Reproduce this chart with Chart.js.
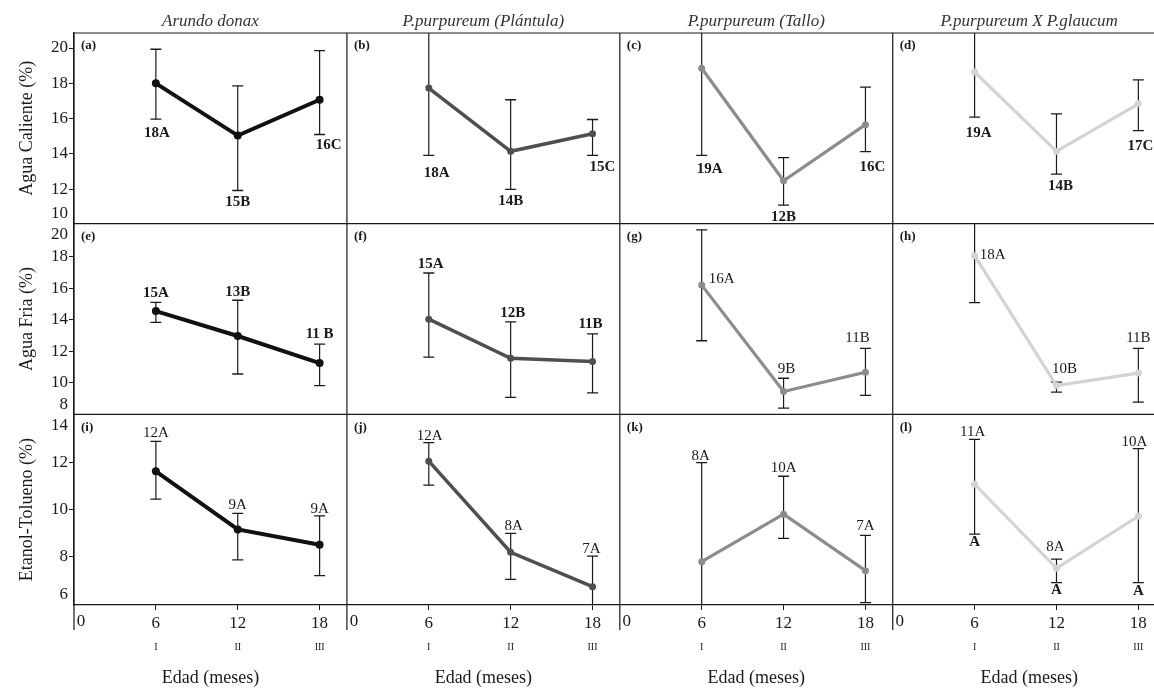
<!DOCTYPE html>
<html>
<head>
<meta charset="utf-8">
<script src="https://cdn.jsdelivr.net/npm/chart.js@4.4.1/dist/chart.umd.min.js"></script>
<style>
  html, body { margin: 0; padding: 0; background: #fff; overflow: hidden; }
  #wrap { position: relative; width: 1173px; height: 689px; }
</style>
</head>
<body>
<div id="wrap"><canvas id="chart"></canvas></div>
<script>
(function () {
  "use strict";

  // ---- data -------------------------------------------------------------
  const AGES = [6, 12, 18];
  const AGE_TICKS = [6, 12, 18];
  const ROMAN = ["I", "II", "III"];
  const SPECIES = ["Arundo donax", "P.purpureum (Plántula)", "P.purpureum (Tallo)", "P.purpureum X P.glaucum"];
  const PROPERTIES = ["Agua Caliente (%)", "Agua Fria (%)", "Etanol-Tolueno (%)"];
  const PANEL_TAGS = [["(a)", "(b)", "(c)", "(d)"], ["(e)", "(f)", "(g)", "(h)"], ["(i)", "(j)", "(k)", "(l)"]];

  // y tick labels per row (edge labels sit inside the frame, without dash)
  const Y_TICKS = [[12, 14, 16, 18, 20], [10, 12, 14, 16, 18], [8, 10, 12]];
  const Y_EDGE_TOP = [null, "20", "14"];
  const Y_EDGE_BOTTOM = ["10", "8", "6"];

  // one row of arrays per property, one inner array per species (6, 12, 18 months)
  const calienteMedia = [[18.0, 15.04, 17.07], [17.73, 14.15, 15.14], [18.85, 12.48, 15.66], [18.64, 14.15, 16.84]];
  const calienteMin = [[15.97, 11.93, 15.1], [13.92, 11.99, 13.92], [13.92, 11.1, 14.13], [16.08, 12.86, 15.32]];
  const calienteMax = [[19.93, 17.86, 19.85], [21.5, 17.07, 15.95], [23.8, 13.79, 17.78], [21.2, 16.27, 18.2]];
  const calienteLetras = [["18A", "15B", "16C"], ["18A", "14B", "15C"], ["19A", "12B", "16C"], ["19A", "14B", "17C"]];

  const friaMedia = [[14.55, 12.97, 11.25], [14.04, 11.56, 11.35], [16.2, 9.45, 10.67], [18.07, 9.83, 10.62]];
  const friaMin = [[13.84, 10.56, 9.82], [11.63, 9.08, 9.36], [12.67, 8.4, 9.2], [15.09, 9.41, 8.78]];
  const friaMax = [[15.1, 15.24, 12.45], [16.97, 13.87, 13.1], [19.71, 10.29, 12.18], [21.0, 10.04, 12.18]];
  const friaLetras = [["15A", "13B", "11 B"], ["15A", "12B", "11B"], ["16A", "9B", "11B"], ["18A", "10B", "11B"]];

  const etanolMedia = [[11.63, 9.16, 8.51], [12.06, 8.19, 6.73], [7.79, 9.81, 7.41], [11.08, 7.51, 9.72]];
  const etanolMin = [[10.45, 7.87, 7.2], [11.04, 7.04, 5.4], [3.6, 8.78, 6.05], [8.96, 6.9, 6.9]];
  const etanolMax = [[12.9, 9.84, 9.74], [12.85, 8.99, 8.03], [12.0, 11.42, 8.91], [12.99, 7.9, 12.59]];
  const etanolLetras = [["12A", "9A", "9A"], ["12A", "8A", "7A"], ["8A", "10A", "7A"], ["11A", "A", "8A", "A", "10A", "A"]];

  const MEANS = [calienteMedia, friaMedia, etanolMedia];
  const LOWS = [calienteMin, friaMin, etanolMin];
  const HIGHS = [calienteMax, friaMax, etanolMax];
  const LETTERS = [calienteLetras, friaLetras, etanolLetras];

  // ---- style ------------------------------------------------------------
  const INK = "#1a1a1a";
  const SERIF = '"Liberation Serif", "DejaVu Serif", serif';
  const COL_COLORS = ["#111111", "#4f4f4f", "#8c8c8c", "#d3d3d3"];
  const LINE_WIDTHS = [4, 3.5, 3.2, 3.2];
  const ROW_RANGES = [[10.05, 20.85], [8.0, 20.1], [5.95, 14.05]];

  // where each letter goes: [point index, anchor, dx, dy, bold]
  const LABEL_POS = [
    [
      [[0, "lo", 1, 14, 1], [1, "lo", 0, 12, 1], [2, "lo", 9, 11, 1]],
      [[0, "lo", 8, 18, 1], [1, "lo", 0, 12, 1], [2, "lo", 10, 12, 1]],
      [[0, "lo", 8, 14, 1], [1, "lo", 0, 12, 1], [2, "lo", 7, 15, 1]],
      [[0, "lo", 4, 16, 1], [1, "lo", 4, 12, 1], [2, "lo", 2, 15, 1]],
    ],
    [
      [[0, "hi", 0, -9, 1], [1, "hi", 0, -8, 1], [2, "hi", 0, -10, 1]],
      [[0, "hi", 2, -9, 1], [1, "hi", 2, -9, 1], [2, "hi", -2, -10, 1]],
      [[0, "pt", 20, -6, 0], [1, "hi", 3, -9, 0], [2, "hi", -8, -10, 0]],
      [[0, "pt", 18, -1, 0], [1, "hi", 8, -13, 0], [2, "hi", 0, -10, 0]],
    ],
    [
      [[0, "hi", 0, -8, 0], [1, "hi", 0, -8, 0], [2, "hi", 0, -7, 0]],
      [[0, "hi", 1, -7, 0], [1, "hi", 3, -7, 0], [2, "hi", -1, -7, 0]],
      [[0, "hi", -1, -7, 0], [1, "hi", 0, -8, 0], [2, "hi", 0, -9, 0]],
      [[0, "hi", -2, -7, 0], [0, "lo", 0, 8, 1], [1, "hi", -1, -12, 0], [1, "lo", 0, 7, 1], [2, "hi", -4, -7, 0], [2, "lo", 0, 8, 1]],
    ],
  ];

  // ---- scales -----------------------------------------------------------
  const scales = {};
  // left axes stacked: Chart.js places the last defined one on top
  for (let r = 2; r >= 0; r--) {
    scales["y" + r] = {
      type: "linear",
      position: "left",
      stack: "rows",
      stackWeight: 1,
      min: ROW_RANGES[r][0],
      max: ROW_RANGES[r][1],
      afterBuildTicks: (s) => { s.ticks = Y_TICKS[r].map((v) => ({ value: v })); },
      afterFit: (s) => { s.width = 74; },
      grid: { drawOnChartArea: false, drawTicks: true, tickLength: 5, tickColor: INK, tickWidth: 1 },
      border: { display: true, color: INK, width: 1.2 },
      ticks: { color: INK, font: { family: SERIF, size: 17 }, padding: 1 },
      title: { display: true, text: PROPERTIES[r], color: INK, font: { family: SERIF, size: 18 }, padding: { top: 16, bottom: 0 } },
    };
  }
  for (let c = 0; c < 4; c++) {
    scales["x" + c] = {
      type: "linear",
      position: "bottom",
      stack: "cols",
      stackWeight: 1,
      min: 0,
      max: 20,
      afterBuildTicks: (s) => { s.ticks = AGE_TICKS.map((v) => ({ value: v })); },
      afterFit: (s) => { s.height = 84; },
      grid: { drawOnChartArea: false, drawTicks: true, tickLength: 5, tickColor: INK, tickWidth: 1 },
      border: { display: true, color: INK, width: 1.2 },
      ticks: { color: INK, font: { family: SERIF, size: 17 }, padding: 3, maxRotation: 0 },
      title: { display: true, text: "Edad (meses)", color: INK, font: { family: SERIF, size: 18 }, padding: { top: 0, bottom: 0 } },
    };
  }

  // ---- datasets ---------------------------------------------------------
  const datasets = [];
  for (let r = 0; r < 3; r++) {
    for (let c = 0; c < 4; c++) {
      const ids = { xAxisID: "x" + c, yAxisID: "y" + r };
      datasets.push(Object.assign({
        type: "line",
        data: AGES.map((x, i) => ({ x, y: MEANS[r][c][i] })),
        borderColor: COL_COLORS[c],
        backgroundColor: COL_COLORS[c],
        borderWidth: LINE_WIDTHS[c],
        pointRadius: c === 0 ? 4 : 3.5,
        pointBackgroundColor: COL_COLORS[c],
        pointBorderWidth: 0,
        tension: 0,
        order: 0,
      }, ids));

      const bars = [];
      AGES.forEach((x, i) => {
        bars.push({ x, y: LOWS[r][c][i] }, { x, y: HIGHS[r][c][i] }, { x, y: null });
      });
      datasets.push(Object.assign({
        type: "line",
        data: bars,
        borderColor: INK,
        borderWidth: 1.2,
        spanGaps: false,
        pointStyle: "line",
        pointRadius: 5.5,
        pointBorderColor: INK,
        pointBorderWidth: 1.3,
        order: 1,
      }, ids));
    }
  }

  // ---- frame and text ---------------------------------------------------
  const panelDecor = {
    id: "panelDecor",
    afterDraw(chart) {
      const { ctx, chartArea: a } = chart;
      ctx.save();
      ctx.strokeStyle = INK;
      ctx.lineWidth = 1.2;
      ctx.beginPath();
      ctx.moveTo(a.left, a.top);
      ctx.lineTo(a.right, a.top);
      for (let r = 1; r < 3; r++) {
        const y = chart.scales["y" + r].top;
        ctx.moveTo(a.left, y);
        ctx.lineTo(a.right, y);
      }
      for (let c = 0; c < 4; c++) {
        const x = chart.scales["x" + c].left;
        ctx.moveTo(x, a.top);
        ctx.lineTo(x, a.bottom + 25);
      }
      ctx.moveTo(a.right, a.top);
      ctx.lineTo(a.right, a.bottom);
      ctx.stroke();

      ctx.fillStyle = INK;

      // y edge labels
      ctx.font = `17px ${SERIF}`;
      ctx.textAlign = "right";
      ctx.textBaseline = "middle";
      for (let r = 0; r < 3; r++) {
        const ys = chart.scales["y" + r];
        const xr = ys.right - 6;
        if (Y_EDGE_TOP[r]) ctx.fillText(Y_EDGE_TOP[r], xr, ys.top + 11);
        if (Y_EDGE_BOTTOM[r]) ctx.fillText(Y_EDGE_BOTTOM[r], xr, ys.bottom - 10);
      }

      for (let c = 0; c < 4; c++) {
        const xs = chart.scales["x" + c];
        // "0" next to the frame
        ctx.font = `17px ${SERIF}`;
        ctx.textAlign = "center";
        ctx.textBaseline = "top";
        ctx.fillText("0", xs.left + 7, a.bottom + 8);
        // roman numerals under the ages
        ctx.font = `10px ${SERIF}`;
        ctx.textBaseline = "middle";
        AGES.forEach((x, i) => ctx.fillText(ROMAN[i], xs.getPixelForValue(x), a.bottom + 42));
        // species header
        ctx.font = `italic 17px ${SERIF}`;
        ctx.fillStyle = "#333";
        ctx.fillText(SPECIES[c], (xs.left + xs.right) / 2, a.top - 11);
        ctx.fillStyle = INK;
      }

      for (let r = 0; r < 3; r++) {
        const ys = chart.scales["y" + r];
        for (let c = 0; c < 4; c++) {
          const xs = chart.scales["x" + c];
          ctx.font = `bold 13px ${SERIF}`;
          ctx.textAlign = "left";
          ctx.textBaseline = "middle";
          ctx.fillText(PANEL_TAGS[r][c], xs.left + 7, ys.top + 13);

          ctx.textAlign = "center";
          LABEL_POS[r][c].forEach((p, k) => {
            const [i, at, dx, dy, bold] = p;
            const src = at === "lo" ? LOWS : at === "hi" ? HIGHS : MEANS;
            const px = xs.getPixelForValue(AGES[i]) + dx;
            const py = ys.getPixelForValue(src[r][c][i]) + dy;
            ctx.font = `${bold ? "bold " : ""}15px ${SERIF}`;
            ctx.fillText(LETTERS[r][c][k], px, py);
          });
        }
      }
      ctx.restore();
    },
  };

  new Chart(document.getElementById("chart"), {
    type: "line",
    data: { datasets },
    options: {
      responsive: true,
      maintainAspectRatio: false,
      animation: false,
      events: [],
      layout: { padding: { top: 33, right: 1, left: 0, bottom: 0 } },
      plugins: { legend: { display: false }, tooltip: { enabled: false } },
      scales,
    },
    plugins: [panelDecor],
  });
})();
</script>
</body>
</html>
